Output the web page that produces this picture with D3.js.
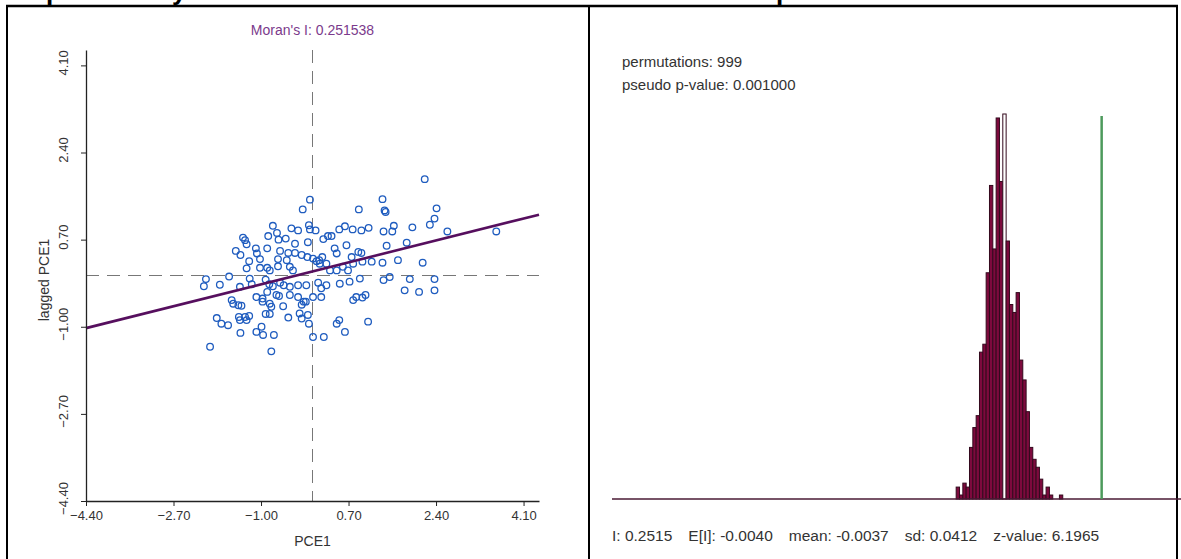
<!DOCTYPE html>
<html>
<head>
<meta charset="utf-8">
<script src="https://cdn.jsdelivr.net/npm/d3@7"></script>
<style>
  body { margin: 0; background: #fff; }
  text { font-family: "Liberation Sans", Arial, sans-serif; }
</style>
</head>
<body>
<div id="chart"></div>
<script>
// scatter data (PCE1 vs spatially lagged PCE1)
const pce1 = [-0.05,-0.19,0.90,-0.07,-0.05,-0.77,-0.69,-0.41,-0.28,-1.35,-1.31,-0.86,-0.66,-0.52,-0.34,-0.09,0.06,0.21,0.30,0.37,
  0.52,0.63,0.78,0.95,1.09,-1.28,-1.49,-1.40,-1.10,-1.08,-0.88,-0.63,-0.47,-0.34,-0.21,-0.10,0.01,0.13,0.19,0.43,
  0.47,0.66,0.76,0.89,0.95,-1.23,-1.02,-0.67,-0.50,-1.28,-1.02,-0.88,-0.83,-0.67,-0.44,-0.38,0.08,0.14,0.27,0.34,
  0.47,0.59,0.69,0.79,0.97,1.15,-2.07,-2.11,-1.62,-1.80,-1.41,-1.22,-1.18,-0.91,-0.84,-0.77,-0.63,-0.56,-0.44,-0.28,
  -0.12,0.11,0.27,0.17,0.53,0.72,0.92,-1.57,-1.54,-1.44,-1.38,-1.09,-0.97,-0.97,-0.88,-0.70,-0.65,-0.44,-0.28,-0.17,
  0.01,0.17,0.79,0.85,0.97,1.03,-0.83,-0.80,-0.57,-0.21,-0.13,-1.86,-1.77,-1.64,-1.43,-1.41,-1.31,-1.28,-1.23,-0.91,
  -0.83,-0.47,-0.25,-0.21,-0.09,-0.07,0.47,0.52,0.63,1.08,-1.40,-1.09,-0.99,-0.96,-0.75,0.01,0.22,-1.99,-0.80,2.18,
  1.36,1.40,1.42,2.41,2.37,2.28,1.38,1.55,1.58,1.94,2.62,3.57,1.44,1.83,1.36,1.66,2.14,1.38,1.50,1.89,
  2.37,1.79,2.07,2.37]
const laggedPce1 = [1.48,1.29,1.29,0.98,0.90,0.97,0.83,0.92,0.88,0.74,0.69,0.77,0.70,0.72,0.62,0.65,0.88,0.71,0.77,0.77,
  0.90,0.96,0.90,0.88,0.93,0.61,0.48,0.40,0.53,0.43,0.53,0.48,0.44,0.44,0.40,0.36,0.33,0.30,0.36,0.53,
  0.43,0.59,0.36,0.46,0.44,0.28,0.32,0.32,0.30,0.14,0.15,0.15,0.10,0.18,0.17,0.10,0.28,0.23,0.23,0.10,
  0.10,0.17,0.10,0.23,0.27,0.27,-0.07,-0.21,-0.02,-0.18,-0.22,-0.06,-0.17,-0.08,-0.17,-0.21,-0.14,-0.19,-0.22,-0.19,
  -0.19,-0.14,-0.19,-0.25,-0.16,-0.12,-0.06,-0.48,-0.55,-0.58,-0.59,-0.42,-0.45,-0.51,-0.32,-0.38,-0.40,-0.38,-0.42,-0.51,
  -0.42,-0.42,-0.48,-0.42,-0.43,-0.38,-0.55,-0.61,-0.60,-0.57,-0.51,-0.83,-0.94,-0.97,-0.81,-0.87,-0.81,-0.87,-0.79,-0.75,
  -0.75,-0.82,-0.74,-0.84,-0.77,-0.94,-0.94,-0.87,-1.10,-0.90,-1.12,-1.10,-1.00,-1.16,-1.16,-1.20,-1.20,-1.39,-1.48,1.88,
  1.49,1.27,1.24,1.31,1.11,0.99,0.86,0.86,0.97,0.94,0.86,0.86,0.58,0.64,0.25,0.30,0.25,-0.09,-0.03,-0.07,
  -0.07,-0.29,-0.32,-0.29]
const axisTicks = [-4.40, -2.70, -1.00, 0.70, 2.40, 4.10]
const moransI = 0.251538
const regIntercept = 0.08

// permutation histogram
const binStart = -0.1307
const binWidth = 0.00875
const binCounts = [3,1,4,3,13,18,21,37,39,57,79,63,96,80,97,65,49,47,52,35,30,22,13,10,8,5,1,3,1,0,0,1]
const permutations = 999
const pseudoP = "0.001000"
const statLabels = ["I", "E[I]", "mean", "sd", "z-value"]
const statValues = ["0.2515", "-0.0040", "-0.0037", "0.0412", "6.1965"]

var W = 1181, H = 559

const svg = d3.select("#chart").append("svg")
  .attr("width", W)
  .attr("height", H)

// heading above the table, cut off by the page top
var head = svg.append("g")
  .style("font-family", "'Liberation Serif', 'Times New Roman', serif")
  .style("font-weight", "bold")
  .style("font-size", "26px")
head.append("text").attr("x", 46).attr("y", 0).text("p")
head.append("text").attr("x", 172).attr("y", 0).text("y")
head.append("text").attr("x", 776).attr("y", 0).text("p")

// table borders
svg.append("line").attr("x1", 6).attr("x2", 1178).attr("y1", 6).attr("y2", 6).attr("stroke", "#000").attr("stroke-width", 2.5)
svg.append("line").attr("x1", 7).attr("x2", 7).attr("y1", 5).attr("y2", H).attr("stroke", "#000").attr("stroke-width", 2)
svg.append("line").attr("x1", 589).attr("x2", 589).attr("y1", 5).attr("y2", H).attr("stroke", "#000").attr("stroke-width", 2)
svg.append("line").attr("x1", 1177).attr("x2", 1177).attr("y1", 5).attr("y2", H).attr("stroke", "#000").attr("stroke-width", 2)

// ---------- left: Moran scatter plot ----------
var x = d3.scaleLinear().domain([-4.4, 4.4]).range([86, 539])
var y = d3.scaleLinear().domain([-4.4, 4.4]).range([501, 50])

var left = svg.append("g")

left.append("text")
  .attr("x", x(0)).attr("y", 35)
  .attr("text-anchor", "middle")
  .style("font-size", "14px")
  .style("fill", "#7b3a8c")
  .text("Moran's I: " + moransI.toFixed(6))

// mean lines
left.append("line")
  .attr("x1", x(0)).attr("x2", x(0))
  .attr("y1", y(4.4)).attr("y2", y(-4.4))
  .attr("stroke", "#777").attr("stroke-dasharray", "13,8")
left.append("line")
  .attr("x1", x(-4.4)).attr("x2", x(4.4))
  .attr("y1", y(0)).attr("y2", y(0))
  .attr("stroke", "#777").attr("stroke-dasharray", "13,8")

left.selectAll("circle")
  .data(pce1)
  .enter().append("circle")
  .attr("cx", d => x(d))
  .attr("cy", (d, i) => y(laggedPce1[i]))
  .attr("r", 3.3)
  .attr("fill", "none")
  .attr("stroke", "#1f5cbf")
  .attr("stroke-width", 1.3)

// regression line, slope = Moran's I
left.append("line")
  .attr("x1", x(-4.4)).attr("x2", x(4.4))
  .attr("y1", y(regIntercept + moransI * -4.4))
  .attr("y2", y(regIntercept + moransI * 4.4))
  .attr("stroke", "#560f5e").attr("stroke-width", 2.6)

var fmt = d3.format(".2f")

var xAxis = left.append("g")
  .attr("transform", `translate(0, ${y(-4.4)})`)
  .call(d3.axisBottom(x).tickValues(axisTicks).tickFormat(fmt).tickSize(5).tickSizeOuter(0))
xAxis.selectAll("text").style("font-size", "13px").style("fill", "#333").attr("y", 10)

var yAxis = left.append("g")
  .attr("transform", `translate(${x(-4.4)}, 0)`)
  .call(d3.axisLeft(y).tickValues(axisTicks).tickFormat(fmt).tickSize(5).tickSizeOuter(0))
yAxis.selectAll("text")
  .style("font-size", "13px").style("fill", "#333")
  .attr("text-anchor", "middle")
  .attr("x", 0).attr("dy", 0)
  .attr("transform", "translate(-18, -3) rotate(-90)")

left.selectAll(".domain").attr("stroke", "#222").attr("stroke-width", 1.3)
left.selectAll(".tick line").attr("stroke", "#222")

left.append("text")
  .attr("x", x(0)).attr("y", 546)
  .attr("text-anchor", "middle")
  .style("font-size", "14px").style("fill", "#333")
  .text("PCE1")

left.append("text")
  .attr("transform", "translate(49, 280) rotate(-90)")
  .attr("text-anchor", "middle")
  .style("font-size", "14px").style("fill", "#333")
  .text("lagged PCE1")

// ---------- right: reference distribution ----------
var hx = d3.scaleLinear().domain([-1.035, 0.46]).range([612, 1181])
var hy = d3.scaleLinear().domain([0, d3.max(binCounts)]).range([499, 114])

var right = svg.append("g")

right.append("text").attr("x", 622).attr("y", 67)
  .style("font-size", "15px").style("fill", "#333")
  .text("permutations: " + permutations)
right.append("text").attr("x", 622).attr("y", 90)
  .style("font-size", "15px").style("fill", "#333")
  .text("pseudo p-value: " + pseudoP)

var meanVal = +statValues[2]
right.selectAll("rect")
  .data(binCounts)
  .enter().append("rect")
  .attr("x", (d, i) => hx(binStart + i * binWidth))
  .attr("width", hx(binWidth) - hx(0))
  .attr("y", d => hy(d))
  .attr("height", d => hy(0) - hy(d))
  .attr("fill", (d, i) => (meanVal >= binStart + i * binWidth && meanVal < binStart + (i + 1) * binWidth) ? "#fff" : "#7d0a3d")
  .attr("stroke", "#33091d")
  .attr("stroke-width", 1)

right.append("line")
  .attr("x1", hx(-1.035)).attr("x2", hx(0.46))
  .attr("y1", hy(0)).attr("y2", hy(0))
  .attr("stroke", "#4a1a35").attr("stroke-width", 1.5)

right.append("line")
  .attr("x1", hx(+statValues[0])).attr("x2", hx(+statValues[0]))
  .attr("y1", hy(d3.max(binCounts)) + 2).attr("y2", hy(0))
  .attr("stroke", "#4d9a5c").attr("stroke-width", 2.5)

// summary line under the histogram, items spaced out like the original
var sx = 612
statLabels.forEach(function(l, i) {
  var t = right.append("text").attr("x", sx).attr("y", 541)
    .style("font-size", "15.5px").style("fill", "#333")
    .text(l + ": " + statValues[i])
  sx += t.node().getComputedTextLength() + 16
})
</script>
</body>
</html>
